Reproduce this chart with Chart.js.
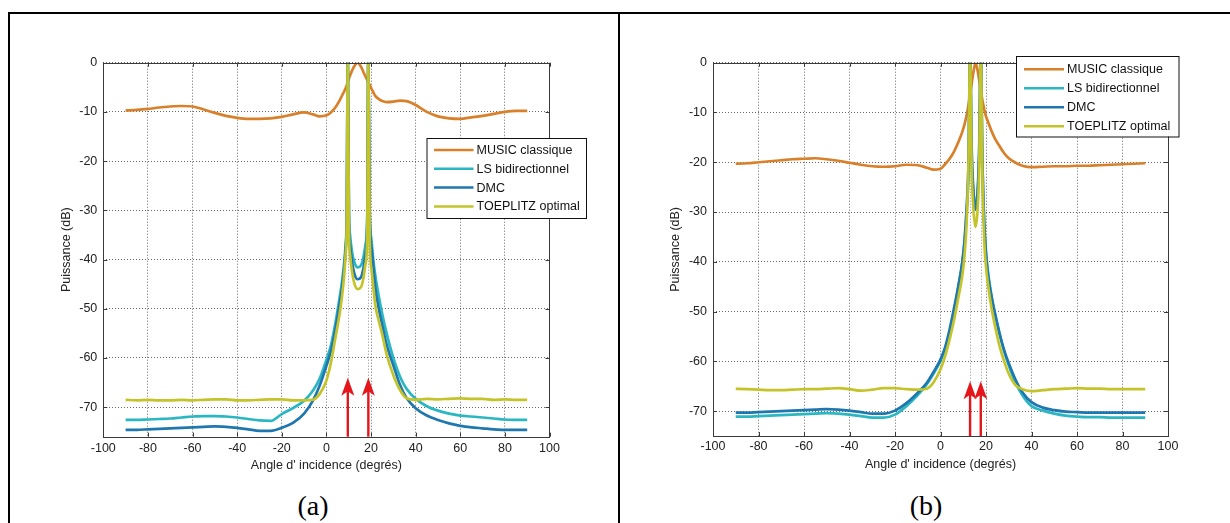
<!DOCTYPE html>
<html>
<head>
<meta charset="utf-8">
<script src="https://cdn.jsdelivr.net/npm/chart.js@4.4.0/dist/chart.umd.min.js"></script>
<style>
html, body { margin: 0; padding: 0; background: #fff; }
body { width: 1230px; height: 523px; position: relative; overflow: hidden; }
.frame { position: absolute; left: 8px; top: 12px; width: 1240px; height: 530px; border-left: 2px solid #000; border-top: 2px solid #000; }
.mid { position: absolute; left: 618px; top: 12px; width: 2px; height: 520px; background: #000; }
.panel { position: absolute; top: 0; width: 615px; height: 480px; }
.cap { position: absolute; top: 490px; width: 80px; text-align: center; font-family: 'Liberation Serif', 'Times New Roman', serif; font-size: 28px; line-height: 32px; color: #000; }
</style>
</head>
<body>
<div class="frame"></div>
<div class="mid"></div>
<div class="panel" style="left:0"><canvas id="chartA"></canvas></div>
<div class="panel" style="left:615px"><canvas id="chartB"></canvas></div>
<div class="cap" style="left:273px">(a)</div>
<div class="cap" style="left:886px">(b)</div>
<script>
// ---- data ----
const seriesLabels = ['MUSIC classique', 'LS bidirectionnel', 'DMC', 'TOEPLITZ optimal'];
const seriesColors = ['#d9802a', '#2bb7c2', '#1f77b0', '#c4c42a'];

// panel (a)
const anglesA = [-90,-85,-80,-75,-70,-65,-60,-55,-50,-45,-40,-35,-30,-25,-20,-15,-10,
  -6,-3,0,2,4,6,7,8, 8.6,9.1,9.6,10.1,10.6, 11.5,12.5,14,15.5,16.5,17.5,
  18.3,18.8,19.4,20.2,21,22,23.5,25,27, 30,33,36,40, 45,50,55,60,65,70,75,80,85,90];
const musicA = [-9.7,-9.6,-9.4,-9.1,-8.9,-8.8,-8.9,-9.5,-10.2,-10.8,-11.2,-11.4,-11.4,-11.3,-11.0,-10.5,-10.1,
  -10.5,-10.9,-10.7,-10.1,-9.1,-7.6,-6.7,-5.8, -5.2,-4.6,-3.9,-3.2,-2.6, -1.6,-0.7,0,-0.8,-1.8,-2.8,
  -3.5,-4.0,-4.5,-5.3,-6.0,-6.8,-7.4,-7.8,-8.0, -7.9,-7.7,-7.8,-8.6, -10.0,-10.9,-11.3,-11.4,-11.1,-10.8,-10.4,-10.0,-9.8,-9.8];
const lsA = [-72.6,-72.6,-72.5,-72.4,-72.3,-72.1,-71.9,-71.8,-71.8,-71.9,-72.1,-72.4,-72.7,-72.8,-71.4,-70.2,-68.7,
  -66.6,-64.2,-60.4,-57.5,-53,-47.5,-44.5,-40.5, -37,-31,2,-30,-35, -38.5,-40.5,-41.6,-41.2,-39.8,-37,
  -31,2,-30,-36,-40,-43.5,-47.5,-51,-55, -60,-63.8,-66.3,-68.3, -69.8,-70.7,-71.3,-71.7,-71.9,-72.1,-72.3,-72.5,-72.6,-72.6];
const dmcA = [-74.6,-74.6,-74.5,-74.4,-74.3,-74.2,-74.1,-74.0,-73.9,-74.0,-74.2,-74.5,-74.8,-74.8,-74.2,-73.2,-71.3,
  -68.6,-65.6,-61.6,-58.6,-54.2,-48.8,-45.6,-41.6, -38,-32,2,-32,-37, -40.5,-42.8,-44,-43.6,-42,-39,
  -33,2,-31,-37.5,-41.3,-46,-50,-53.2,-57.3, -61.5,-65.5,-68.2,-70.2, -71.7,-72.6,-73.3,-73.8,-74.1,-74.3,-74.5,-74.6,-74.6,-74.6];
const toeplitzA = [-68.5,-68.6,-68.5,-68.6,-68.6,-68.5,-68.6,-68.5,-68.4,-68.4,-68.6,-68.6,-68.5,-68.4,-68.4,-68.6,-68.6,
  -68.5,-67.3,-64.6,-61,-56,-50.8,-47.5,-43, -39,-33,2,-34,-39, -42.5,-44.8,-46,-45.6,-44,-41,
  -35,2,-35,-42,-45.5,-49.5,-52.5,-55.2,-59.3, -63.5,-66.5,-68.2,-68.5, -68.3,-68.4,-68.3,-68.2,-68.3,-68.3,-68.5,-68.4,-68.5,-68.5];
const sourcesA = [9.6, 18.8];
const yMinA = -76;

// panel (b)
const anglesB = [-90,-85,-80,-75,-70,-65,-60,-55,-50,-45,-40,-35,-30,-25,-20,-15,-10,
  -6,-3,0,2,4,6,8, 9.5,10.5,11.5,12.3, 13,13.7,14.5,15.4,16.3,17,17.7,
  18.4,19.2,20,21,22.5,24,26,28, 30,33,36,40, 45,50,55,60,65,70,75,80,85,90];
const musicB = [-20.3,-20.2,-20.0,-19.8,-19.6,-19.4,-19.3,-19.2,-19.4,-19.7,-20.1,-20.5,-20.8,-20.9,-20.8,-20.5,-20.6,
  -21.1,-21.5,-21.3,-20.4,-19.3,-17.8,-15.8, -14,-12.5,-10.5,-8.5, -6.5,-4.2,-1.8,0,-1.5,-3.5,-5.5,
  -7.5,-9.3,-10.8,-12.0,-13.8,-15.3,-16.8,-18.2, -19.2,-20.1,-20.7,-21.0, -20.9,-20.8,-20.8,-20.7,-20.7,-20.6,-20.5,-20.4,-20.3,-20.2];
const lsB = [-71.1,-71.1,-71.0,-70.9,-70.8,-70.7,-70.6,-70.5,-70.4,-70.5,-70.7,-71.0,-71.3,-71.3,-70.7,-69.0,-66.8,
  -64.6,-62.4,-59.9,-57.6,-54.2,-49.8,-44.5, -40.5,-36.5,-30,-22, 2,-19,-26,-29,-26,-19,2,
  -20,-32,-38,-42.5,-47,-50.5,-54.5,-58, -60.8,-64.3,-66.8,-69, -69.9,-70.5,-70.9,-71.1,-71.2,-71.2,-71.3,-71.3,-71.3,-71.3];
const dmcB = [-70.3,-70.3,-70.2,-70.1,-70.0,-69.9,-69.8,-69.7,-69.6,-69.7,-69.9,-70.2,-70.5,-70.5,-69.9,-68.4,-66.3,
  -64.3,-62.1,-59.6,-57.2,-53.6,-49.2,-44.5, -40.3,-36,-29,-20, 2,-17,-26,-29.5,-26,-17,2,
  -19,-32,-38.5,-43,-47.2,-50.5,-54.5,-57.8, -60.4,-63.7,-66.2,-68.2, -69.3,-69.8,-70.1,-70.2,-70.3,-70.3,-70.3,-70.3,-70.3,-70.3];
const toeplitzB = [-65.5,-65.6,-65.7,-65.8,-65.8,-65.7,-65.6,-65.6,-65.5,-65.4,-65.6,-65.9,-65.7,-65.4,-65.4,-65.6,-65.7,
  -65.5,-64.2,-61.6,-59,-55.6,-51.6,-46.8, -43,-39,-32,-20, 2,-21,-29.5,-33,-29.5,-21,2,
  -22,-35.5,-41,-45,-49.5,-53,-57,-60, -62.5,-64.8,-65.6,-66.0, -65.8,-65.6,-65.5,-65.4,-65.5,-65.5,-65.6,-65.6,-65.6,-65.6];
const sourcesB = [13.0, 17.7];
const yMinB = -75;

const arrowTipDb = -64;

// ---- drawing ----
Chart.defaults.font.family = "'Liberation Sans', Arial, sans-serif";
Chart.defaults.color = '#222';

const matlabLook = {
  id: 'matlabLook',
  beforeDatasetsDraw(chart, args, opts) {
    const { ctx, chartArea: a, scales: { x } } = chart;
    ctx.save();
    ctx.strokeStyle = 'rgba(0,0,0,0.45)';
    ctx.lineWidth = 1;
    ctx.setLineDash([1, 2]);
    opts.sources.forEach(s => {
      const px = Math.round(x.getPixelForValue(s)) + 0.5;
      ctx.beginPath(); ctx.moveTo(px, a.top); ctx.lineTo(px, a.bottom); ctx.stroke();
    });
    ctx.restore();
  },
  afterDatasetsDraw(chart, args, opts) {
    const { ctx, chartArea: a, scales: { x, y } } = chart;
    ctx.save();
    // axes box with inward ticks
    ctx.strokeStyle = '#3a3a3a';
    ctx.lineWidth = 1;
    ctx.strokeRect(Math.round(a.left) + 0.5, Math.round(a.top) + 0.5, Math.round(a.right - a.left), Math.round(a.bottom - a.top));
    ctx.beginPath();
    x.ticks.forEach(t => {
      const px = Math.round(x.getPixelForValue(t.value)) + 0.5;
      ctx.moveTo(px, a.bottom); ctx.lineTo(px, a.bottom - 4);
      ctx.moveTo(px, a.top); ctx.lineTo(px, a.top + 4);
    });
    y.ticks.forEach(t => {
      const py = Math.round(y.getPixelForValue(t.value)) + 0.5;
      ctx.moveTo(a.left, py); ctx.lineTo(a.left + 4, py);
      ctx.moveTo(a.right, py); ctx.lineTo(a.right - 4, py);
    });
    ctx.stroke();

    // red arrows at the true source angles
    ctx.fillStyle = '#e5161b';
    ctx.strokeStyle = '#e5161b';
    opts.sources.forEach(s => {
      const px = x.getPixelForValue(s);
      const tip = y.getPixelForValue(opts.arrowTip);
      ctx.lineWidth = 2.4;
      ctx.beginPath(); ctx.moveTo(px, a.bottom); ctx.lineTo(px, tip + 10); ctx.stroke();
      ctx.beginPath();
      ctx.moveTo(px, tip);
      ctx.lineTo(px - 6.5, tip + 18);
      ctx.lineTo(px, tip + 13.5);
      ctx.lineTo(px + 6.5, tip + 18);
      ctx.closePath();
      ctx.fill();
    });

    // legend box
    const L = opts.legend;
    ctx.fillStyle = '#fff';
    ctx.fillRect(L.left, L.top, L.width, L.height);
    ctx.strokeStyle = '#111';
    ctx.lineWidth = 1;
    ctx.strokeRect(L.left + 0.5, L.top + 0.5, L.width, L.height);
    ctx.font = "12.5px 'Liberation Sans', Arial, sans-serif";
    ctx.textBaseline = 'middle';
    ctx.textAlign = 'left';
    chart.data.datasets.forEach((ds, i) => {
      const ry = L.top + L.firstRow + i * L.rowGap;
      ctx.strokeStyle = ds.borderColor;
      ctx.lineWidth = 2.5;
      ctx.beginPath(); ctx.moveTo(L.left + L.lineStart, ry); ctx.lineTo(L.left + L.lineEnd, ry); ctx.stroke();
      ctx.fillStyle = '#111';
      ctx.fillText(ds.label, L.left + L.textStart, ry + 0.5);
    });
    ctx.restore();
  }
};

function makeChart(id, angles, values, sources, yMin, geo) {
  const datasets = values.map((vals, i) => ({
    label: seriesLabels[i],
    data: angles.map((a, k) => ({ x: a, y: vals[k] })),
    borderColor: seriesColors[i],
    backgroundColor: seriesColors[i],
    borderWidth: 2.7,
    pointRadius: 0,
    cubicInterpolationMode: 'monotone',
    order: values.length - i
  }));
  const axisFont = { size: 12.5 };
  return new Chart(document.getElementById(id), {
    type: 'line',
    data: { datasets },
    options: {
      responsive: true,
      maintainAspectRatio: false,
      animation: false,
      devicePixelRatio: 1,
      layout: { padding: { left: 0, top: geo.top, right: geo.right, bottom: 0 } },
      plugins: {
        legend: { display: false },
        tooltip: { enabled: false },
        matlabLook: { sources, arrowTip: arrowTipDb, legend: geo.legend }
      },
      scales: {
        x: {
          type: 'linear', min: -100, max: 100,
          afterFit: s => { s.height = geo.xHeight; },
          ticks: { stepSize: 20, padding: geo.xTickPad, font: axisFont, color: '#222' },
          grid: { color: 'rgba(0,0,0,0.6)', drawTicks: false, lineWidth: 1 },
          border: { display: false, dash: [1, 2] },
          title: { display: true, text: "Angle d' incidence (degrés)", font: axisFont, color: '#222', padding: { top: 0, bottom: geo.xTitlePad } }
        },
        y: {
          type: 'linear', min: yMin, max: 0,
          afterBuildTicks: s => { s.ticks = s.ticks.filter(t => t.value % 10 === 0); },
          afterFit: s => { s.width = geo.yWidth; },
          ticks: { stepSize: 10, padding: 6, font: axisFont, color: '#222' },
          grid: { color: 'rgba(0,0,0,0.6)', drawTicks: false, lineWidth: 1 },
          border: { display: false, dash: [1, 2] },
          title: { display: true, text: 'Puissance (dB)', font: axisFont, color: '#222', padding: { top: geo.yTitlePad, bottom: 0 } }
        }
      }
    },
    plugins: [matlabLook]
  });
}

makeChart('chartA', anglesA, [musicA, lsA, dmcA, toeplitzA], sourcesA, yMinA, {
  top: 62.7, right: 65.5, xHeight: 43.3, yWidth: 103.3, xTickPad: 4, xTitlePad: 6.8, yTitlePad: 59.5,
  legend: { left: 426.5, top: 138, width: 159.5, height: 80, firstRow: 12, rowGap: 18.8, lineStart: 7.5, lineEnd: 47, textStart: 50 }
});
makeChart('chartB', anglesB, [musicB, lsB, dmcB, toeplitzB], sourcesB, yMinB, {
  top: 62.7, right: 62, xHeight: 44, yWidth: 98, xTickPad: 3, xTitlePad: 8.2, yTitlePad: 53.3,
  legend: { left: 401, top: 56, width: 162.5, height: 80.5, firstRow: 13.3, rowGap: 19, lineStart: 8, lineEnd: 48, textStart: 51 }
});
</script>
</body>
</html>
